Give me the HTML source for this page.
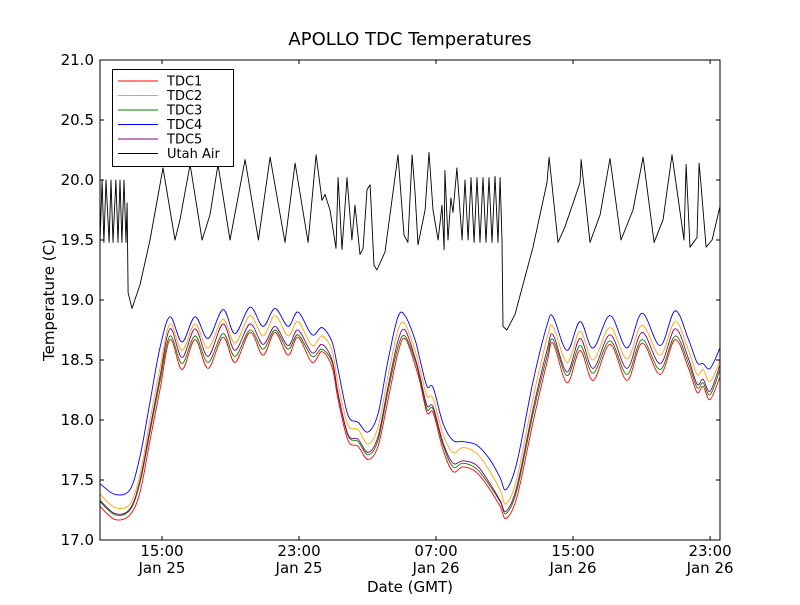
<!DOCTYPE html>
<html><head><meta charset="utf-8"><style>
body{margin:0;background:#fff;}
svg text{font-family:"DejaVu Sans","Liberation Sans",sans-serif;fill:#000;}
</style></head><body>
<svg id="chart" width="800" height="600" viewBox="0 0 800 600">
<rect x="0" y="0" width="800" height="600" fill="#fff"/>
<defs><clipPath id="clip"><rect x="100" y="60" width="620" height="480"/></clipPath></defs>
<text x="410" y="45" font-size="18" text-anchor="middle">APOLLO TDC Temperatures</text>
<text x="410" y="592" font-size="15" text-anchor="middle">Date (GMT)</text>
<text transform="translate(54,300) rotate(-90)" font-size="15" text-anchor="middle">Temperature (C)</text>
<g id="series" clip-path="url(#clip)"></g>
<g id="axes"></g>
<rect x="100" y="60" width="620" height="480" fill="none" stroke="#000" stroke-width="1"/>
<g id="legend">
<rect x="112.5" y="69.5" width="121" height="97" fill="#fff" stroke="#000"/>
</g>
</svg>
<script>
const tdcTimes=[11.38,12.26,13.13,13.72,14.30,14.88,15.47,16.17,16.93,17.69,18.56,19.26,20.14,20.90,21.60,22.36,22.94,23.76,24.34,24.93,25.28,25.86,26.45,27.03,27.61,28.20,28.78,29.19,29.77,30.07,30.47,30.83,31.41,31.99,32.58,33.39,34.15,34.74,35.09,35.73,36.66,37.48,37.83,38.65,39.41,40.17,41.16,42.15,43.03,44.08,44.96,45.72,46.24,46.59,47.00,47.58];
const tdc1=[17.28,17.17,17.21,17.40,17.83,18.25,18.67,18.42,18.67,18.43,18.69,18.48,18.73,18.54,18.73,18.54,18.69,18.48,18.57,18.44,18.17,17.83,17.78,17.67,17.78,18.17,18.56,18.68,18.46,18.31,18.06,18.06,17.75,17.57,17.61,17.56,17.42,17.28,17.18,17.36,17.98,18.48,18.64,18.31,18.58,18.33,18.63,18.33,18.64,18.38,18.67,18.44,18.23,18.28,18.17,18.36];
const tdc2=[17.38,17.27,17.30,17.55,18.00,18.43,18.80,18.58,18.80,18.60,18.84,18.64,18.87,18.70,18.87,18.70,18.82,18.62,18.70,18.58,18.30,17.96,17.92,17.80,17.94,18.37,18.75,18.80,18.58,18.42,18.20,18.18,17.88,17.73,17.77,17.72,17.57,17.42,17.30,17.52,18.18,18.68,18.78,18.48,18.74,18.50,18.77,18.51,18.79,18.54,18.82,18.59,18.38,18.42,18.32,18.50];
const tdc3=[17.32,17.21,17.25,17.48,17.90,18.32,18.70,18.47,18.70,18.48,18.72,18.53,18.75,18.59,18.75,18.59,18.71,18.53,18.59,18.48,18.21,17.87,17.82,17.71,17.83,18.24,18.61,18.70,18.50,18.34,18.09,18.09,17.79,17.61,17.64,17.59,17.45,17.32,17.22,17.42,18.05,18.53,18.67,18.37,18.62,18.39,18.66,18.38,18.67,18.42,18.70,18.48,18.27,18.31,18.21,18.42];
const tdc4=[17.47,17.38,17.42,17.70,18.15,18.60,18.86,18.65,18.86,18.68,18.92,18.72,18.94,18.78,18.93,18.78,18.90,18.71,18.77,18.65,18.42,18.04,17.98,17.90,18.05,18.50,18.86,18.87,18.67,18.50,18.28,18.27,17.97,17.83,17.82,17.79,17.67,17.52,17.42,17.65,18.32,18.79,18.86,18.58,18.82,18.60,18.87,18.60,18.89,18.62,18.91,18.68,18.48,18.47,18.43,18.60];
const tdc5=[17.33,17.22,17.26,17.50,17.93,18.36,18.76,18.52,18.76,18.53,18.80,18.58,18.80,18.63,18.78,18.62,18.75,18.56,18.63,18.50,18.22,17.88,17.84,17.73,17.86,18.28,18.66,18.75,18.52,18.36,18.12,18.11,17.81,17.64,17.66,17.62,17.47,17.33,17.24,17.45,18.09,18.58,18.71,18.40,18.68,18.43,18.71,18.43,18.73,18.47,18.76,18.52,18.30,18.34,18.24,18.46];
const airTimes=[11.38,11.50,11.61,11.73,11.91,12.02,12.14,12.31,12.43,12.55,12.66,12.78,12.90,12.96,13.02,13.25,13.72,14.30,15.06,15.76,16.05,16.64,17.34,17.80,18.27,18.97,19.85,20.63,21.31,22.18,22.77,23.53,24.00,24.34,24.52,24.81,25.16,25.28,25.51,25.80,26.09,26.27,26.56,26.74,26.97,27.15,27.38,27.55,28.02,28.78,29.13,29.36,29.60,29.77,29.95,30.36,30.59,30.82,31.12,31.35,31.47,31.52,31.70,31.87,31.99,32.22,32.52,32.69,32.87,33.04,33.22,33.39,33.57,33.74,33.92,34.09,34.27,34.44,34.62,34.74,34.85,34.91,35.14,35.61,36.66,37.48,37.60,38.12,38.53,39.41,39.47,39.99,40.58,41.16,41.80,42.50,43.09,43.73,44.26,44.78,45.48,45.60,45.83,46.24,46.36,46.48,46.77,47.12,47.58];
const airTemps=[19.48,20.00,19.48,20.00,19.48,20.00,19.48,20.00,19.48,20.00,19.48,20.00,19.48,19.81,19.06,18.93,19.13,19.50,20.10,19.50,19.67,20.13,19.50,19.71,20.13,19.50,20.17,19.50,20.19,19.48,20.14,19.48,20.21,19.83,19.88,19.75,19.43,20.02,19.42,20.02,19.50,19.79,19.38,19.43,19.92,19.96,19.29,19.25,19.40,20.21,19.54,19.48,20.21,19.90,19.46,19.75,20.23,19.75,19.50,19.79,19.42,20.08,19.50,19.85,19.73,20.10,19.50,20.00,19.50,20.02,19.48,20.02,19.48,20.02,19.48,20.02,19.48,20.03,19.48,20.02,19.50,18.78,18.75,18.88,19.44,19.98,20.19,19.48,19.61,19.98,20.17,19.48,19.71,20.18,19.50,19.75,20.19,19.48,19.67,20.21,19.50,20.13,19.44,19.52,20.14,19.94,19.44,19.50,19.78];
const yTicks=[17.0,17.5,18.0,18.5,19.0,19.5,20.0,20.5,21.0];
const xTicks=[15,23,31,39,47];
const xTickTimes=["15:00","23:00","07:00","15:00","23:00"];
const xTickDates=["Jan 25","Jan 25","Jan 26","Jan 26","Jan 26"];
const legendLabels=["TDC1","TDC2","TDC3","TDC4","TDC5","Utah Air"];

const X0=100,X1=720,Y0=60,Y1=540,TMIN=11.38,TMAX=47.58,VMIN=17,VMAX=21;
const NS='http://www.w3.org/2000/svg';
function sx(t){return X0+(t-TMIN)/(TMAX-TMIN)*(X1-X0);}
function sy(v){return Y1-(v-VMIN)/(VMAX-VMIN)*(Y1-Y0);}
function mk(tag,attrs,parent){const e=document.createElementNS(NS,tag);for(const k in attrs)e.setAttribute(k,attrs[k]);parent.appendChild(e);return e;}
function smoothPath(p){
  let d='M'+p[0][0].toFixed(1)+','+p[0][1].toFixed(1);
  for(let i=0;i<p.length-1;i++){
    const p0=p[i-1]||p[i],p1=p[i],p2=p[i+1],p3=p[i+2]||p2;
    const c1x=p1[0]+(p2[0]-p0[0])/6,c1y=p1[1]+(p2[1]-p0[1])/6;
    const c2x=p2[0]-(p3[0]-p1[0])/6,c2y=p2[1]-(p3[1]-p1[1])/6;
    d+=' C'+c1x.toFixed(1)+','+c1y.toFixed(1)+' '+c2x.toFixed(1)+','+c2y.toFixed(1)+' '+p2[0].toFixed(1)+','+p2[1].toFixed(1);
  }
  return d;
}
const series=document.getElementById('series'),axes=document.getElementById('axes'),legend=document.getElementById('legend');
const defs=[[tdcTimes,tdc1,'#ff0000','tdc1-line',true],[tdcTimes,tdc2,'#ffa500','tdc2-line',true],[tdcTimes,tdc3,'#008000','tdc3-line',true],[tdcTimes,tdc4,'#0000ff','tdc4-line',true],[tdcTimes,tdc5,'#800080','tdc5-line',true],[airTimes,airTemps,'#000000','utah-air-line',false]];
const colors=['#ff0000','#ffa500','#008000','#0000ff','#800080','#000000'];
defs.forEach(d=>{
  const p=d[0].map((t,i)=>[sx(t),sy(d[1][i])]);
  let el;
  if(d[4]){
    el=mk('path',{d:smoothPath(p),fill:'none',stroke:d[2],'stroke-width':0.9},series);
  }else{
    el=mk('polyline',{points:p.map(q=>q[0].toFixed(1)+','+q[1].toFixed(1)).join(' '),fill:'none',stroke:d[2],'stroke-width':0.9,'stroke-linejoin':'round'},series);
  }
  
  
});
yTicks.forEach(v=>{
  const y=sy(v);
  const a=mk('line',{x1:X0,x2:X0+4,y1:y,y2:y,stroke:'#000'},axes);
  
  
  mk('line',{x1:X1,x2:X1-4,y1:y,y2:y,stroke:'#000'},axes);
  const t=mk('text',{x:X0-6,y:y+5,'font-size':15,'text-anchor':'end'},axes);
  t.textContent=v.toFixed(1);
  
  
});
xTicks.forEach((h,i)=>{
  const x=sx(h);
  const a=mk('line',{x1:x,x2:x,y1:Y1,y2:Y1-4,stroke:'#000'},axes);
  
  
  mk('line',{x1:x,x2:x,y1:Y0,y2:Y0+4,stroke:'#000'},axes);
  const t1=mk('text',{x:x,y:556,'font-size':15,'text-anchor':'middle'},axes);
  t1.textContent=xTickTimes[i];
  
  
  const t2=mk('text',{x:x,y:573,'font-size':15,'text-anchor':'middle'},axes);
  t2.textContent=xTickDates[i];
  
  
});
legendLabels.forEach((lab,i)=>{
  const y=81+i*14.5;
  const l=mk('line',{x1:118,x2:158,y1:y,y2:y,stroke:colors[i],'stroke-width':0.9},legend);
  
  
  const t=mk('text',{x:167,y:y+4.5,'font-size':13},legend);
  t.textContent=lab;
  
  
});
</script>
</body></html>
